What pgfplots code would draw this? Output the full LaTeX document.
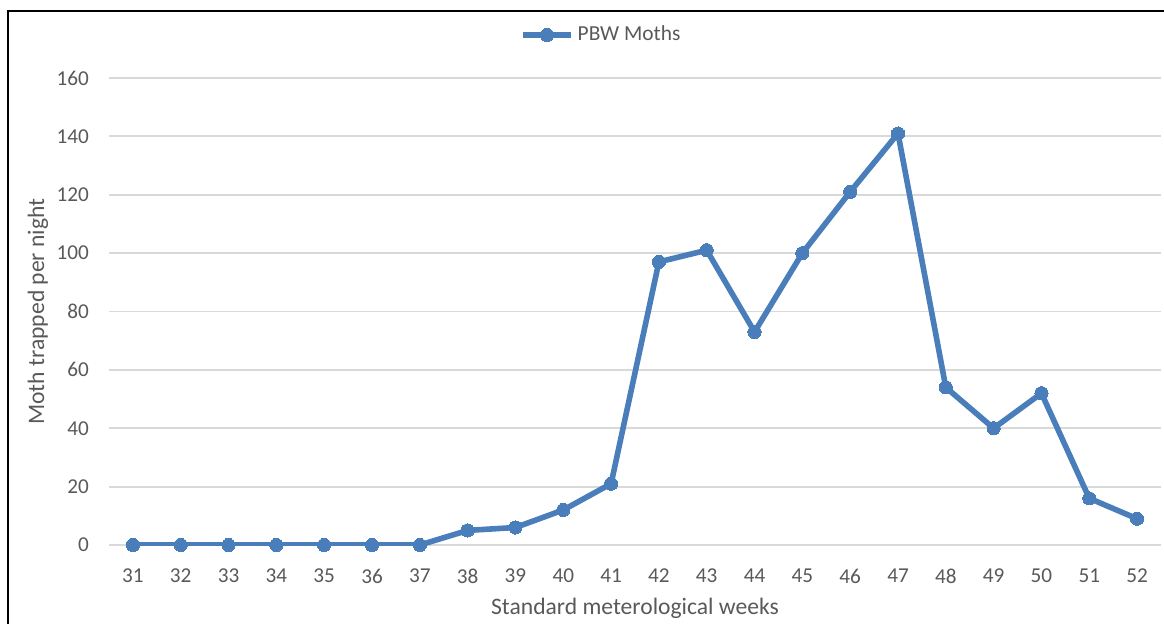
\documentclass[border=0pt]{standalone}
\usepackage{pgfplots}
\pgfplotsset{compat=1.18}
\usepackage{fontspec}
\setmainfont{Carlito}
\definecolor{lineblue}{RGB}{74,126,187}
\definecolor{txtgray}{RGB}{89,89,89}
\definecolor{gridgray}{RGB}{217,217,217}
\begin{document}
\begin{tikzpicture}
\path[use as bounding box] (0,0) rectangle (582pt,-311.5pt);
\draw[black, line width=1pt] (4pt,-320pt) -- (4pt,-5.5pt) -- (590pt,-5.5pt);
\begin{axis}[
  at={(54.5pt,-272.5pt)}, anchor=south west,
  scale only axis,
  width=526pt, height=233.5pt,
  xmin=30.5, xmax=52.5,
  ymin=0, ymax=160,
  xtick={31,...,52},
  ytick={0,20,...,160},
  axis line style={draw=none},
  major tick length=0pt,
  ymajorgrids,
  grid style={gridgray, line width=0.9pt},
  tick label style={font=\fontsize{10.6}{12}\selectfont, text=txtgray},
  /pgf/number format/assume math mode=true,
  xticklabel style={yshift=-8.5pt},
  yticklabel style={xshift=-6.5pt},
  xlabel={Standard meterological weeks},
  ylabel={Moth trapped per night},
  label style={font=\fontsize{11.8}{14}\selectfont, text=txtgray},
  xlabel style={at={(axis description cs:0.5,0)}, anchor=center, yshift=-31.5pt},
  ylabel style={at={(axis description cs:-0.0675,0.5)}, anchor=center},
  legend style={at={(axis description cs:0.469,1.092)}, anchor=center, draw=none, fill=none,
    font=\fontsize{10.7}{12}\selectfont, text=txtgray, inner sep=0pt,
    /tikz/every even column/.append style={column sep=0pt}},
  legend cell align=left,
  legend image code/.code={\draw[mark repeat=2,mark phase=2] plot coordinates {(0cm,0cm) (0.42cm,0cm) (0.84cm,0cm)};},
]
\addplot[lineblue, line width=2.8pt, mark=*, mark size=3.3pt, mark options={fill=lineblue, draw=lineblue, line width=0pt}]
coordinates {
(31,0) (32,0) (33,0) (34,0) (35,0) (36,0) (37,0) (38,5) (39,6) (40,12) (41,21)
(42,97) (43,101) (44,73) (45,100) (46,121) (47,141) (48,54) (49,40) (50,52) (51,16) (52,9)
};
\addlegendentry{PBW Moths}
\end{axis}
\end{tikzpicture}
\end{document}
